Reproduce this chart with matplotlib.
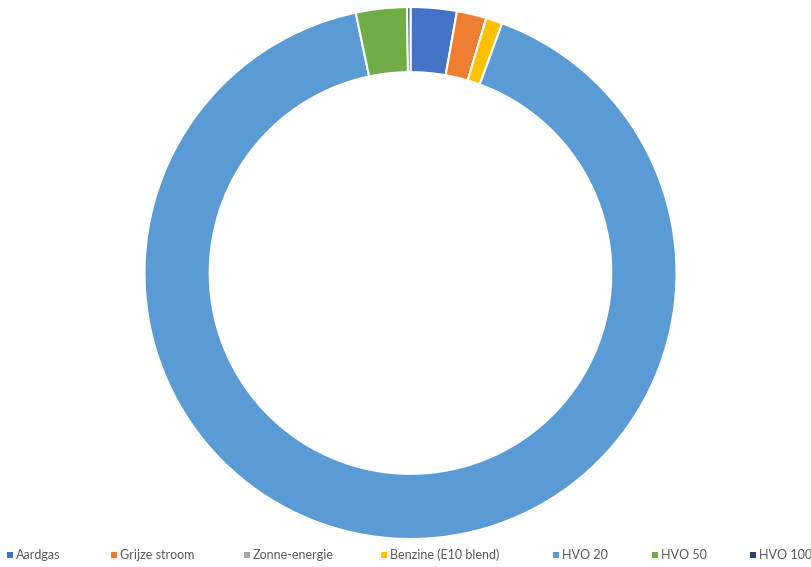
import matplotlib
matplotlib.use("Agg")
import matplotlib.pyplot as plt
from matplotlib.patches import Rectangle

categories = ["Aardgas", "Grijze stroom", "Zonne-energie", "Benzine (E10 blend)", "HVO 20", "HVO 50", "HVO 100"]
values = [2.8, 1.8, 0.0, 1.0, 91.1, 3.1, 0.2]
colors = ["#4472C4", "#ED7D31", "#A5A5A5", "#FFC000", "#5B9BD5", "#70AD47", "#264478"]

plt.rcParams['font.family'] = ['Lato', 'DejaVu Sans']

W, H = 812, 567
fig = plt.figure(figsize=(W / 100, H / 100), dpi=100)
cx, cy, r = 410.5, 273, 266
ax = fig.add_axes([(cx - r) / W, (H - cy - r) / H, 2 * r / W, 2 * r / H])
ax.pie(values, colors=colors, startangle=90, counterclock=False, radius=1,
       wedgeprops=dict(width=0.245, edgecolor="white", linewidth=1.5))
ax.set_xlim(-1, 1)
ax.set_ylim(-1, 1)
ax.set_aspect("equal")
ax.axis("off")

# legend entries laid out along the bottom like the reference
legend_x = [7, 111, 244, 381, 553, 652, 750]
ly = 555
for x, c, lab in zip(legend_x, colors, categories):
    fig.patches.append(Rectangle((x / W, (H - ly - 3) / H), 6 / W, 6 / H,
                                 transform=fig.transFigure, facecolor=c,
                                 edgecolor="none"))
    fig.text((x + 9) / W, 1 - ly / H, lab, fontsize=9, color="#595959",
             va="center", ha="left")

fig.savefig("out.png", dpi=100)
